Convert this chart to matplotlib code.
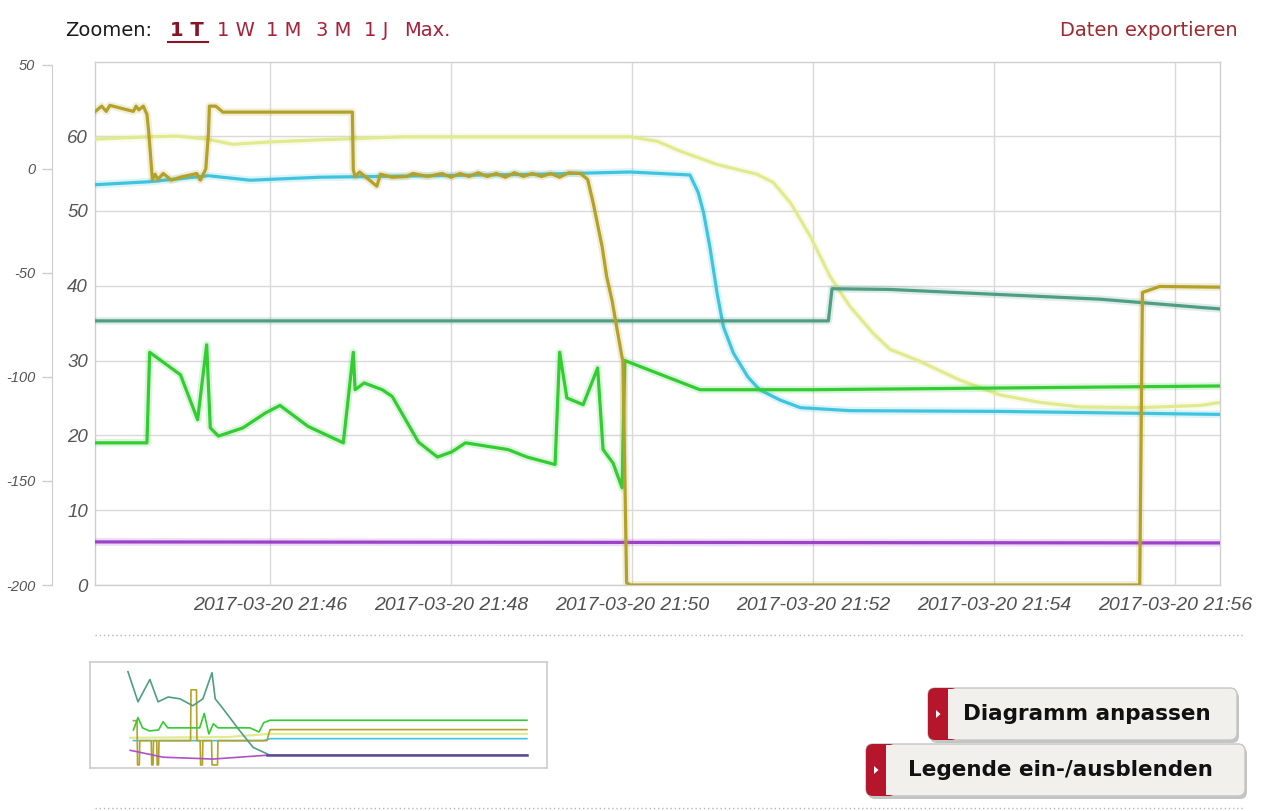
import matplotlib
matplotlib.use("Agg")
import matplotlib.pyplot as plt
import matplotlib.patheffects as pe
from matplotlib.patches import FancyBboxPatch, Rectangle, Polygon
from matplotlib import font_manager

# ---------------- data (x = minutes after 21:44) ----------------
tick_minutes = [2, 4, 6, 8, 10, 12]
tick_labels = ["2017-03-20 21:46", "2017-03-20 21:48", "2017-03-20 21:50",
               "2017-03-20 21:52", "2017-03-20 21:54", "2017-03-20 21:56"]
inner_ticks = [0, 10, 20, 30, 40, 50, 60]
outer_ticks = [-200, -150, -100, -50, 0, 50]

olive_t = [0.07, 0.14, 0.19, 0.23, 0.49, 0.52, 0.55, 0.60, 0.64, 0.66, 0.70, 0.73, 0.76, 0.82, 0.91,
           1.01, 1.19, 1.23, 1.29, 1.32, 1.33, 1.40, 1.48, 2.91, 2.92, 2.94, 2.99, 3.05, 3.18, 3.22,
           3.35, 3.51, 3.58, 3.74, 3.90, 4.00, 4.10, 4.20, 4.30, 4.40, 4.50, 4.60, 4.70, 4.80, 4.90,
           5.00, 5.10, 5.20, 5.30, 5.43, 5.51, 5.57, 5.67, 5.72, 5.78, 5.83, 5.89, 5.90, 5.94, 5.98,
           11.61, 11.64, 11.83, 12.50]
olive_v = [63.3, 64.0, 63.3, 64.1, 63.3, 64.0, 63.5, 64.0, 62.9, 60.5, 54.2, 54.9, 54.2, 55.0, 54.1,
           54.5, 55.0, 54.1, 55.6, 60.5, 64.0, 64.0, 63.2, 63.2, 55.5, 54.6, 55.2, 54.6, 53.3, 54.9,
           54.5, 54.6, 55.0, 54.6, 55.0, 54.5, 55.0, 54.6, 55.1, 54.6, 55.0, 54.5, 55.1, 54.6, 55.0,
           54.6, 55.0, 54.5, 55.1, 55.0, 54.2, 51.1, 45.2, 41.2, 38.0, 34.5, 30.4, 30.0, 0.3, 0.0,
           0.0, 39.1, 39.9, 39.8]

pale_t = [0.07, 0.67, 0.97, 1.30, 1.59, 1.97, 2.55, 3.50, 4.98, 5.98, 6.28, 6.53, 6.94, 7.38, 7.56,
          7.75, 7.97, 8.19, 8.41, 8.66, 8.85, 9.18, 9.62, 10.07, 10.51, 10.95, 11.61, 12.28, 12.50]
pale_v = [59.6, 59.9, 60.0, 59.6, 58.9, 59.2, 59.5, 59.9, 59.9, 59.9, 59.3, 58.0, 56.2, 54.9, 53.8,
          51.1, 46.6, 41.2, 37.2, 33.7, 31.5, 29.9, 27.4, 25.4, 24.4, 23.8, 23.7, 24.0, 24.4]

cyan_t = [0.07, 0.67, 1.32, 1.78, 2.55, 4.98, 5.98, 6.64, 6.73, 6.79, 6.86, 6.94, 7.01, 7.12, 7.28,
          7.41, 7.64, 7.86, 8.41, 10.07, 12.50]
cyan_v = [53.5, 53.9, 54.7, 54.1, 54.5, 54.9, 55.2, 54.8, 52.5, 49.8, 45.2, 39.0, 34.5, 31.0, 27.8,
          26.1, 24.7, 23.7, 23.3, 23.2, 22.8]

teal_t = [0.07, 8.17, 8.21, 8.85, 11.17, 12.28, 12.50]
teal_v = [35.3, 35.3, 39.6, 39.5, 38.2, 37.1, 36.9]

green_t = [0.07, 0.64, 0.67, 1.01, 1.20, 1.30, 1.34, 1.43, 1.70, 1.95, 2.11, 2.42, 2.81, 2.92, 2.94,
           3.04, 3.24, 3.35, 3.64, 3.85, 4.01, 4.16, 4.63, 4.84, 5.15, 5.20, 5.28, 5.46, 5.62, 5.68,
           5.79, 5.89, 5.92, 6.75, 8.00, 12.50]
green_v = [19.0, 19.0, 31.1, 28.1, 22.1, 32.1, 21.0, 19.9, 21.0, 23.0, 24.0, 21.2, 19.0, 31.1, 26.1,
           27.0, 26.1, 25.2, 19.1, 17.1, 17.8, 19.0, 18.1, 17.1, 16.1, 31.1, 25.0, 24.1, 29.0, 18.1,
           16.3, 13.0, 30.0, 26.1, 26.1, 26.6]

purple_t = [0.07, 12.50]
purple_v = [5.76, 5.62]

# navigator (overview) series, x and y in percent of the navigator range
nav_teal_x = [8.3, 10.5, 13.1, 14.9, 17.1, 19.7, 22.5, 24.7, 26.7, 27.4, 29.1, 32.8, 35.7, 39.4, 95.6]
nav_teal_y = [90.6, 61.3, 83.0, 61.3, 66.0, 64.2, 57.5, 64.2, 89.6, 64.2, 54.7, 33.0, 17.0, 9.4, 9.4]
nav_purple_x = [8.8, 16.0, 26.9, 38.7, 95.6]
nav_purple_y = [14.2, 7.5, 5.7, 9.4, 9.4]
nav_green_x = [9.5, 10.5, 11.5, 13.0, 15.0, 16.0, 17.0, 24.0, 25.0, 26.0, 27.0, 28.0, 35.0, 37.0, 38.0, 39.4, 95.6]
nav_green_y = [34, 46, 36, 33, 34, 42, 36, 36, 50, 30, 40, 36, 36, 32, 41, 43.4, 43.4]
nav_olive_x = [9.5, 10.3, 10.4, 10.8, 10.9, 13.4, 13.5, 13.8, 13.9, 14.6, 14.7, 15.0, 15.1, 22.0, 22.1,
               23.3, 23.4, 24.1, 24.2, 24.6, 24.7, 26.6, 26.7, 27.9, 28.0, 38.7, 39.4, 95.6]
nav_olive_y = [43, 43, 0, 0, 23.6, 23.6, 0, 0, 23.6, 23.6, 0, 0, 23.6, 23.6, 73, 73, 23.6, 23.6, 0, 0,
               23.6, 23.6, 0, 0, 23.6, 23.6, 34.3, 34.3]
nav_pale_x = [8.8, 30.0, 39.4, 95.6]
nav_pale_y = [26.4, 27.0, 30.2, 30.2]
nav_cyan_x = [9.5, 38.0, 39.4, 95.6]
nav_cyan_y = [23.6, 23.6, 25.5, 25.5]

# ---------------- styling ----------------
names = {f.name for f in font_manager.fontManager.ttflist}
narrow = "Liberation Sans Narrow" if "Liberation Sans Narrow" in names else "Liberation Sans"

C_OLIVE = "#b3a12a"
C_PALE = "#e1ea8e"
C_CYAN = "#40c4de"
C_TEAL = "#4f9d84"
C_GREEN = "#33cc33"
C_PURPLE = "#9c42c8"
C_RED = "#a8213a"

W, H = 1280, 811
fig = plt.figure(figsize=(W / 100, H / 100), dpi=100)

# UI overlay in pixel coordinates
ui = fig.add_axes([0, 0, 1, 1], zorder=0)
ui.set_xlim(0, W)
ui.set_ylim(H, 0)
ui.axis("off")

ax = fig.add_axes([95 / W, 1 - 585 / H, (1220 - 95) / W, (585 - 62) / H], zorder=2)
ax.set_xlim(0.066, 12.497)
ax.set_ylim(0, 69.9)
ax.set_facecolor("none")
ax.grid(True, color="#d9d9d9", lw=1)
ax.set_axisbelow(True)
for s in ax.spines.values():
    s.set_color("#cfcfcf")
    s.set_linewidth(1)
ax.set_xticks(tick_minutes)
ax.set_xticklabels(tick_labels, fontsize=14, style="italic", family=narrow, color="#505050")
ax.set_yticks(inner_ticks)
ax.set_yticklabels([str(t) for t in inner_ticks], fontsize=13.5, style="italic",
                   family="Liberation Sans", color="#555555")
ax.tick_params(axis="x", length=0, pad=9)
ax.tick_params(axis="y", length=0, pad=5)


def draw(t, v, c, z):
    ax.plot(t, v, color=c, lw=2.3, zorder=z, solid_joinstyle="round",
            path_effects=[pe.Stroke(linewidth=5.5, foreground=c, alpha=0.18), pe.Normal()])


draw(cyan_t, cyan_v, C_CYAN, 3)
draw(pale_t, pale_v, C_PALE, 4)
draw(teal_t, teal_v, C_TEAL, 5)
draw(green_t, green_v, C_GREEN, 6)
draw(purple_t, purple_v, C_PURPLE, 7)
draw(olive_t, olive_v, C_OLIVE, 8)

# outer (second) y axis on the far left
ax2 = ax.twinx()
ax2.set_ylim(-200, 51.44)
ax2.yaxis.set_ticks_position("left")
ax2.yaxis.set_label_position("left")
for k in ("right", "top", "bottom"):
    ax2.spines[k].set_visible(False)
ax2.spines["left"].set_visible(True)
ax2.spines["left"].set_position(("axes", (52 - 95) / 1125))
ax2.spines["left"].set_bounds(-200, 50)
ax2.spines["left"].set_color("#cccccc")
ax2.set_yticks(outer_ticks)
ax2.set_yticklabels([str(t) for t in outer_ticks], fontsize=10.5, style="italic",
                    family="Liberation Sans", color="#555555")
ax2.tick_params(axis="y", length=7, width=1, color="#cccccc", pad=5)

# ---------------- top bar ----------------
ui.text(65, 30, "Zoomen:", fontsize=14, color="#1a1a1a", va="center", ha="left", family="DejaVu Sans")
ui.text(170, 30, "1 T", fontsize=14, color="#8a1426", va="center", ha="left", family="DejaVu Sans",
        fontweight="semibold")
ui.plot([168, 208], [42, 42], color="#8a1426", lw=1.5)
for xp, s in [(217, "1 W"), (266, "1 M"), (316, "3 M"), (364, "1 J"), (404, "Max.")]:
    ui.text(xp, 30, s, fontsize=14, color=C_RED, va="center", ha="left", family="DejaVu Sans")
ui.text(1238, 30, "Daten exportieren", fontsize=14, color="#a0282e", va="center", ha="right",
        family="DejaVu Sans")

# separators
ui.plot([95, 1245], [635, 635], color="#b5b5b5", lw=1, ls=(0, (1, 2)))
ui.plot([95, 1245], [808, 808], color="#b5b5b5", lw=1, ls=(0, (1, 2)))

# ---------------- navigator ----------------
nav = fig.add_axes([90 / W, 1 - 768 / H, 457 / W, 106 / H], zorder=2)
nav.set_xlim(0, 100)
nav.set_ylim(-3, 100)
nav.set_xticks([])
nav.set_yticks([])
for s in nav.spines.values():
    s.set_color("#cccccc")
    s.set_linewidth(1.2)
nav.plot(nav_cyan_x, nav_cyan_y, color=C_CYAN, lw=1.2)
nav.plot(nav_pale_x, nav_pale_y, color=C_PALE, lw=1.6)
nav.plot(nav_olive_x, nav_olive_y, color=C_OLIVE, lw=1.2)
nav.plot(nav_green_x, nav_green_y, color=C_GREEN, lw=1.2)
nav.plot(nav_teal_x, nav_teal_y, color=C_TEAL, lw=1.2)
nav.plot(nav_purple_x, nav_purple_y, color="#b050c8", lw=1.2)
nav.plot(nav_purple_x[-2:], nav_purple_y[-2:], color="#5b4f92", lw=1.8)


# ---------------- buttons ----------------
def button(x0, y0, x1, y1, label, cx):
    r = 7
    sh = FancyBboxPatch((x0 + 2, y0 + 3), x1 - x0, y1 - y0, boxstyle=f"round,pad=0,rounding_size={r}",
                        fc="#8a8a8a", ec="none", alpha=0.5, zorder=1)
    ui.add_patch(sh)
    body = FancyBboxPatch((x0, y0), x1 - x0, y1 - y0, boxstyle=f"round,pad=0,rounding_size={r}",
                          fc="#f1f0ec", ec="#c4c4c4", lw=1, zorder=2)
    ui.add_patch(body)
    tab = FancyBboxPatch((x0, y0), 30, y1 - y0, boxstyle=f"round,pad=0,rounding_size={r}",
                         fc="#b5162b", ec="none", zorder=3)
    ui.add_patch(tab)
    ui.add_patch(Rectangle((x0 + 20, y0 + 0.8), 14, y1 - y0 - 1.6, fc="#f1f0ec", ec="none", zorder=4))
    ym = (y0 + y1) / 2
    ui.add_patch(Polygon([[x0 + 8, ym - 4], [x0 + 8, ym + 4], [x0 + 12.5, ym]], closed=True,
                         fc="white", ec="none", zorder=5))
    ui.text(cx, ym, label, fontsize=15.5, fontweight="bold", color="#111111", ha="center", va="center",
            family="DejaVu Sans", zorder=6)


button(928, 688, 1237, 740, "Diagramm anpassen", 1087)
button(866, 744, 1245, 796, "Legende ein-/ausblenden", 1060)

fig.savefig("out.png", dpi=100)
